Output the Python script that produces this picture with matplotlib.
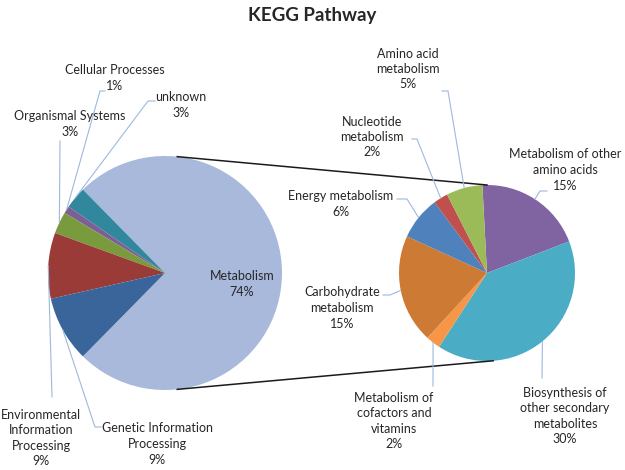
import numpy as np
import matplotlib
matplotlib.use("Agg")
import matplotlib.pyplot as plt

# main pie
main_labels = ["Metabolism", "unknown", "Cellular Processes", "Organismal Systems",
               "Environmental\nInformation\nProcessing", "Genetic Information\nProcessing"]
main_values = [74, 3, 1, 3, 9, 9]
main_colors = ["#A9B9DB", "#31889E", "#7C5F97", "#7A9A3E", "#9A3B37", "#3A659A"]

# breakdown of Metabolism
sub_labels = ["Metabolism of other\namino acids", "Biosynthesis of\nother secondary\nmetabolites",
              "Metabolism of\ncofactors and\nvitamins", "Carbohydrate\nmetabolism",
              "Energy metabolism", "Nucleotide\nmetabolism", "Amino acid\nmetabolism"]
sub_values = [15, 30, 2, 15, 6, 2, 5]
sub_colors = ["#8064A2", "#4BACC6", "#F79646", "#CD7A35", "#4F81BD", "#C0504D", "#9BBB59"]

W, H = 625, 470
plt.rcParams["font.family"] = ["Lato", "DejaVu Sans"]

fig = plt.figure(figsize=(W / 100, H / 100), dpi=100)
ax = fig.add_axes([0, 0, 1, 1])


def P(x, y):
    # pixel (top-left origin) -> data coords
    return x, H - y


c1, r1 = (165, 273), 117
c2, r2 = (487, 273), 88
start1 = -180 * main_values[0] / sum(main_values)

ax.pie(main_values, colors=main_colors, center=P(*c1), radius=r1, startangle=start1,
       counterclock=True, wedgeprops=dict(linewidth=0), frame=True)
ax.pie(sub_values, colors=sub_colors, center=P(*c2), radius=r2, startangle=93,
       counterclock=False, wedgeprops=dict(linewidth=0), frame=True)
ax.set_xlim(0, W)
ax.set_ylim(0, H)
ax.set_aspect("equal")
ax.axis("off")


def mid_angles(values, start, ccw):
    v = np.array(values, float)
    frac = v / v.sum() * 360
    edges = np.concatenate([[0], np.cumsum(frac)])
    mids = (edges[:-1] + edges[1:]) / 2
    return start + mids if ccw else start - mids


def edge_point(center, r, ang):
    a = np.deg2rad(ang)
    cx, cy = P(*center)
    return cx + r * np.cos(a), cy + r * np.sin(a)


# connector lines between the two pies
for a1, a2 in [(84, 90), (-84, -86)]:
    p1 = edge_point(c1, r1, a1)
    p2 = edge_point(c2, r2, a2)
    ax.plot([p1[0], p2[0]], [p1[1], p2[1]], color="#1a1a1a", lw=1.1)

txt = "#262626"
lead = "#9DB9DD"
fs = 9

# label layout: text center, leader start, leader bend (pixels)
main_pos = [None,
            ((181, 105), (155, 101), (148, 101)),
            ((115, 78), (105, 91), (100, 91)),
            ((70, 124), (60, 141), (60, 141)),
            ((41, 438), (52, 397), (52, 397)),
            ((157, 444), (101, 427), (95, 427))]
sub_pos = [((565, 170), (547, 191), (540, 191)),
           ((565, 416), (542, 378), (542, 378)),
           ((394, 421), (433, 386), (433, 386)),
           ((342, 308), (383, 295), (390, 295)),
           ((341, 204), (397, 199), (407, 199)),
           ((372, 137), (412, 139), (417, 139)),
           ((408, 69), (442, 91), (448, 91))]


def leader(start, bend, end):
    xs = [P(*start)[0], P(*bend)[0], end[0]]
    ys = [P(*start)[1], P(*bend)[1], end[1]]
    ax.plot(xs, ys, color=lead, lw=0.8)


m1 = mid_angles(main_values, start1, True)
for lab, v, pos, ang in zip(main_labels, main_values, main_pos, m1):
    s = f"{lab}\n{v}%"
    if pos is None:
        ax.text(*P(242, 284), s, ha="center", va="center", fontsize=fs, color=txt, linespacing=1.35)
        continue
    (tx, ty), st, bd = pos
    ax.text(*P(tx, ty), s, ha="center", va="center", fontsize=fs, color=txt, linespacing=1.35)
    leader(st, bd, edge_point(c1, r1, ang))

m2 = mid_angles(sub_values, 93, False)
for lab, v, pos, ang in zip(sub_labels, sub_values, sub_pos, m2):
    (tx, ty), st, bd = pos
    ax.text(*P(tx, ty), f"{lab}\n{v}%", ha="center", va="center", fontsize=fs, color=txt,
            linespacing=1.35)
    leader(st, bd, edge_point(c2, r2, ang))

ax.text(*P(312, 16), "KEGG Pathway", ha="center", va="center", fontsize=13.5,
        fontweight="bold", color=txt)

fig.savefig("out.png", dpi=100)
